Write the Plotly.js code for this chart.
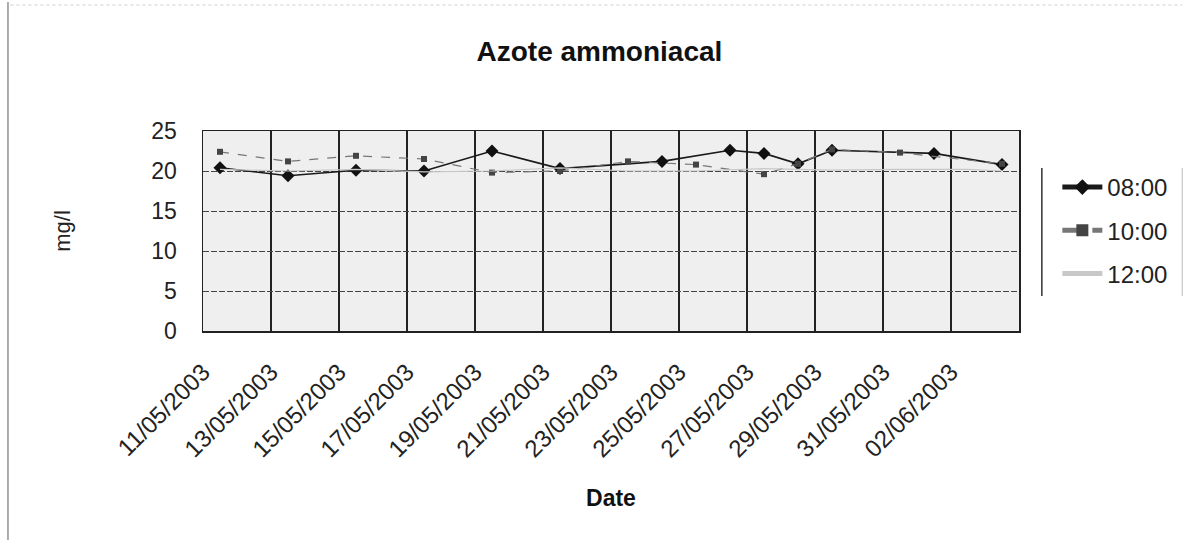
<!DOCTYPE html>
<html>
<head>
<meta charset="utf-8">
<script src="https://cdn.plot.ly/plotly-3.0.1.min.js"></script>
<style>
  html, body { margin: 0; padding: 0; background: #ffffff; }
  #chart { width: 1187px; height: 540px; }
</style>
</head>
<body>
<div id="chart"></div>
<script>
// Daily readings of ammoniacal nitrogen (mg/l), one series per sampling hour
const dates0800 = ["2003-05-11", "2003-05-13", "2003-05-15", "2003-05-17", "2003-05-19", "2003-05-21",
                   "2003-05-24", "2003-05-26", "2003-05-27", "2003-05-28", "2003-05-29", "2003-06-01", "2003-06-03"];
const values0800 = [20.4, 19.4, 20.1, 20.0, 22.5, 20.3, 21.2, 22.6, 22.2, 20.9, 22.6, 22.2, 20.8];

const dates1000 = ["2003-05-11", "2003-05-13", "2003-05-15", "2003-05-17", "2003-05-19", "2003-05-21",
                   "2003-05-23", "2003-05-25", "2003-05-27", "2003-05-28", "2003-05-29", "2003-05-31", "2003-06-03"];
const values1000 = [22.4, 21.2, 21.9, 21.5, 19.8, 20.0, 21.2, 20.8, 19.6, 20.9, 22.7, 22.3, 20.9];

const dates1200 = ["2003-05-11", "2003-05-13", "2003-05-15", "2003-05-17", "2003-05-19", "2003-05-21",
                   "2003-05-23", "2003-05-25", "2003-05-27", "2003-05-29", "2003-05-31", "2003-06-02", "2003-06-03"];
const values1200 = [20.2, 20.0, 20.2, 19.9, 20.0, 20.4, 20.0, 20.0, 20.3, 20.1, 20.2, 20.2, 20.0];

const seriesNames = ["08:00", "10:00", "12:00"];

// Axis ticks: one label every two days
const tickDates = ["2003-05-11", "2003-05-13", "2003-05-15", "2003-05-17", "2003-05-19", "2003-05-21",
                   "2003-05-23", "2003-05-25", "2003-05-27", "2003-05-29", "2003-05-31", "2003-06-02"];
const tickLabels = ["11/05/2003", "13/05/2003", "15/05/2003", "17/05/2003", "19/05/2003", "21/05/2003",
                    "23/05/2003", "25/05/2003", "27/05/2003", "29/05/2003", "31/05/2003", "02/06/2003"];
const yTicks = [0, 5, 10, 15, 20, 25];

// Each reading sits in the middle of its day
const midDay = d => d + " 12:00";

const traces = [
  {
    x: dates0800.map(midDay), y: values0800, name: seriesNames[0], legendgroup: "a",
    type: "scatter", mode: "lines+markers",
    line: { color: "#1a1a1a", width: 1.6 },
    marker: { symbol: "diamond", size: 10, color: "#111111" }
  },
  {
    x: dates1000.map(midDay), y: values1000, name: seriesNames[1], legendgroup: "b",
    type: "scatter", mode: "lines+markers",
    line: { color: "#777777", width: 1.2, dash: "dash" },
    marker: { symbol: "square", size: 6, color: "#444444" }
  },
  {
    x: dates1200.map(midDay), y: values1200, name: seriesNames[2], legendgroup: "c",
    type: "scatter", mode: "lines",
    line: { color: "#c8c8c8", width: 1.2 }
  }
];

const layout = {
  width: 1187, height: 540,
  margin: { l: 203, r: 168, t: 131, b: 209 },
  paper_bgcolor: "#ffffff",
  plot_bgcolor: "#efefef",
  font: { family: "Liberation Sans, Arial, sans-serif", color: "#222222" },
  title: {
    text: "Azote ammoniacal",
    font: { size: 28, color: "#111111", weight: "bold" },
    x: 0.505, xanchor: "center", y: 0.905, yanchor: "middle"
  },
  xaxis: {
    type: "date",
    range: ["2003-05-11", "2003-06-04"],
    tickmode: "array", tickvals: tickDates, ticktext: tickLabels,
    tickangle: -45,
    tickfont: { size: 24, color: "#222222" },
    ticks: "", ticklabelstandoff: 16,
    showgrid: true, gridcolor: "#222222", gridwidth: 1.3,
    showline: true, linecolor: "#222222", linewidth: 1.5, mirror: true,
    zeroline: false,
    title: { text: "Date", font: { size: 23, weight: "bold", color: "#111111" }, standoff: 28 }
  },
  yaxis: {
    range: [0, 25],
    tickmode: "array", tickvals: yTicks,
    tickfont: { size: 23, color: "#222222" },
    ticks: "", ticklabelstandoff: 20,
    showgrid: true, gridcolor: "#444444", gridwidth: 1, griddash: "6px,2px",
    showline: true, linecolor: "#222222", linewidth: 1.5, mirror: true,
    zeroline: false,
    title: { text: "mg/l", font: { size: 22, color: "#222222" }, standoff: 74 }
  },
  showlegend: true,
  legend: {
    x: 1.047, xanchor: "left", y: 0.83, yanchor: "top",
    font: { size: 24, color: "#222222" },
    bgcolor: "rgba(0,0,0,0)", bordercolor: "rgba(0,0,0,0)", borderwidth: 0,
    itemsizing: "constant", itemwidth: 40, tracegroupgap: 9
  },
  shapes: [
    // legend box: dark left edge, faint right edge
    { type: "line", xref: "paper", yref: "paper", x0: 1.028, x1: 1.028, y0: 0.175, y1: 0.815,
      line: { color: "#333333", width: 1.5 } },
    { type: "line", xref: "paper", yref: "paper", x0: 1.2, x1: 1.2, y0: 0.175, y1: 0.815,
      line: { color: "#bbbbbb", width: 1 } },
    // chart frame: left edge and faint top edge
    { type: "line", xref: "paper", yref: "paper", x0: -0.239, x1: -0.239, y0: -1.045, y1: 1.645,
      line: { color: "#777777", width: 1.2 } },
    { type: "line", xref: "paper", yref: "paper", x0: -0.236, x1: 1.2, y0: 1.63, y1: 1.63,
      line: { color: "#cccccc", width: 1, dash: "dot" } }
  ]
};

Plotly.newPlot("chart", traces, layout, { displayModeBar: false, staticPlot: true });
</script>
</body>
</html>
